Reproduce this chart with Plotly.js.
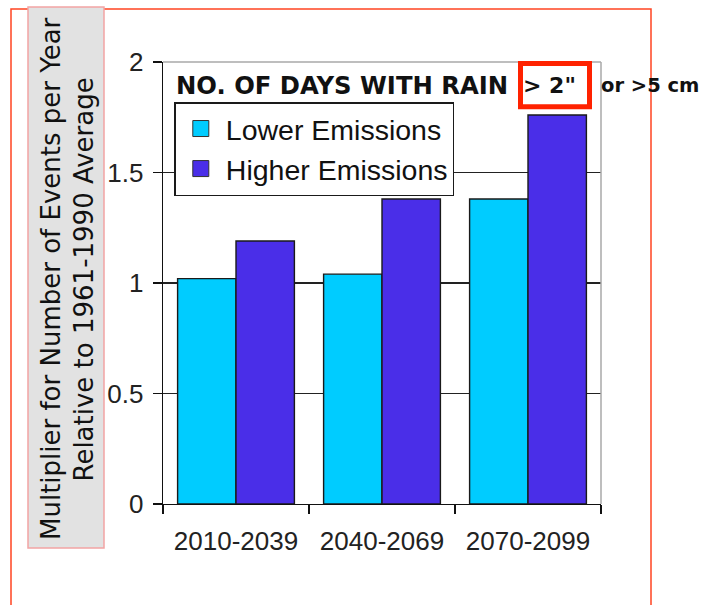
<!DOCTYPE html>
<html><head><meta charset="utf-8">
<script src="https://cdn.plot.ly/plotly-3.0.1.min.js"></script>
<style>html,body{margin:0;padding:0;background:#fff;}</style>
</head><body>
<div id="chart" style="width:703px;height:605px;"></div>
<script>
// ---- data ----
const categories = ['2010-2039', '2040-2069', '2070-2099'];
const lowerEmissions = [1.02, 1.04, 1.38];
const higherEmissions = [1.19, 1.38, 1.76];
const seriesNames = ['Lower Emissions', 'Higher Emissions'];
const yTickVals = [0, 0.5, 1, 1.5, 2];
const yTickText = ['0', '0.5', '1', '1.5', '2'];
const chartTitle = 'NO. OF DAYS WITH RAIN';
const titleHighlight = '> 2"';
const titleNote = 'or >5 cm';
const yTitleLines = ['Multiplier for Number of Events per Year', 'Relative to 1961-1990 Average'];

// ---- styles ----
const colLower = '#00CCFF';
const colHigher = '#4A2EE8';
const W = 703, H = 605;
const M = {l: 163, r: 102, t: 62, b: 101};
const PW = W - M.l - M.r, PH = H - M.t - M.b;
const px = x => (x - M.l) / PW;
const py = y => (H - M.b - y) / PH;
const arial = 'Liberation Sans, Arial, sans-serif';
const dejavu = 'DejaVu Sans, Verdana, sans-serif';

const traces = [
  {type: 'bar', x: categories, y: lowerEmissions, name: seriesNames[0], showlegend: false,
   marker: {color: colLower, line: {color: '#1a1a1a', width: 1.4}}, hoverinfo: 'skip'},
  {type: 'bar', x: categories, y: higherEmissions, name: seriesNames[1], showlegend: false,
   marker: {color: colHigher, line: {color: '#1a1a1a', width: 1.4}}, hoverinfo: 'skip'},
  {type: 'scatter', mode: 'markers', x: [null], y: [null], name: seriesNames[0],
   marker: {symbol: 'square', size: 16, color: colLower, line: {color: '#333', width: 1}}},
  {type: 'scatter', mode: 'markers', x: [null], y: [null], name: seriesNames[1],
   marker: {symbol: 'square', size: 16, color: colHigher, line: {color: '#333', width: 1}}}
];

const layout = {
  width: W, height: H,
  margin: M,
  paper_bgcolor: '#fff', plot_bgcolor: '#fff',
  showlegend: true,
  bargap: 0.2, bargroupgap: 0, barmode: 'group',
  font: {family: arial, color: '#222'},
  xaxis: {
    type: 'category', tickson: 'boundaries', ticks: 'outside', ticklen: 9, tickwidth: 1.3,
    tickcolor: '#111', showline: true, linecolor: '#111', linewidth: 1.4, showgrid: false,
    ticklabelstandoff: 13,
    tickfont: {family: arial, size: 26, color: '#222'}, fixedrange: true
  },
  yaxis: {
    range: [0, 2], tickvals: yTickVals, ticktext: yTickText, ticks: 'outside', ticklen: 9, tickwidth: 1.3,
    tickcolor: '#111', showline: true, linecolor: '#111', linewidth: 1.4,
    showgrid: true, gridcolor: '#222', gridwidth: 1.3, zeroline: false,
    ticklabelstandoff: 4,
    tickfont: {family: arial, size: 26, color: '#222'}, fixedrange: true
  },
  legend: {
    x: px(174.3), y: py(102), xanchor: 'left', yanchor: 'top',
    bgcolor: '#fff', bordercolor: '#1a1a1a', borderwidth: 1.5,
    font: {family: arial, size: 28.5, color: '#111'},
    tracegroupgap: 0, itemwidth: 40
  },
  shapes: [
    // outer red frame
    {type: 'rect', xref: 'paper', yref: 'paper', x0: px(11), x1: px(651), y0: py(640), y1: py(9),
     line: {color: '#FF4422', width: 1.5}, fillcolor: 'rgba(0,0,0,0)'},
    // grey y-title box
    {type: 'rect', xref: 'paper', yref: 'paper', x0: px(28), x1: px(104), y0: py(548), y1: py(7),
     line: {color: '#F2A4A4', width: 1.5}, fillcolor: '#E2E2E2'},
    // plot area top and right border (grey)
    {type: 'line', xref: 'paper', yref: 'paper', x0: 0, x1: 1, y0: 1, y1: 1, line: {color: '#A8A8A8', width: 1.5}},
    {type: 'line', xref: 'paper', yref: 'paper', x0: 1, x1: 1, y0: 0, y1: 1, line: {color: '#A8A8A8', width: 1.5}},
    // red highlight box
    {type: 'rect', xref: 'paper', yref: 'paper', x0: px(520.5), x1: px(589.5), y0: py(106.8), y1: py(63.5),
     line: {color: '#FF2200', width: 5}, fillcolor: 'rgba(0,0,0,0)'}
  ],
  annotations: [
    {xref: 'paper', yref: 'paper', x: px(51), y: py(279), xanchor: 'center', yanchor: 'middle',
     text: yTitleLines[0], textangle: -90, showarrow: false, font: {family: dejavu, size: 26, color: '#111'}},
    {xref: 'paper', yref: 'paper', x: px(83.5), y: py(280), xanchor: 'center', yanchor: 'middle',
     text: yTitleLines[1], textangle: -90, showarrow: false, font: {family: dejavu, size: 26, color: '#111'}},
    {xref: 'paper', yref: 'paper', x: px(174), y: py(85), xanchor: 'left', yanchor: 'middle',
     text: '<b>' + chartTitle + '</b>', showarrow: false, font: {family: dejavu, size: 24.3, color: '#111'}},
    {xref: 'paper', yref: 'paper', x: px(549), y: py(85), xanchor: 'center', yanchor: 'middle',
     text: '<b>' + titleHighlight.replace('>', '&gt;') + '</b>', showarrow: false, font: {family: dejavu, size: 22, color: '#111'}},
    {xref: 'paper', yref: 'paper', x: px(599), y: py(85), xanchor: 'left', yanchor: 'middle',
     text: '<b>' + titleNote.replace('>', '&gt;') + '</b>', showarrow: false, font: {family: dejavu, size: 19.5, color: '#111'}}
  ]
};

Plotly.newPlot('chart', traces, layout, {staticPlot: true, displayModeBar: false});
</script>
</body></html>
